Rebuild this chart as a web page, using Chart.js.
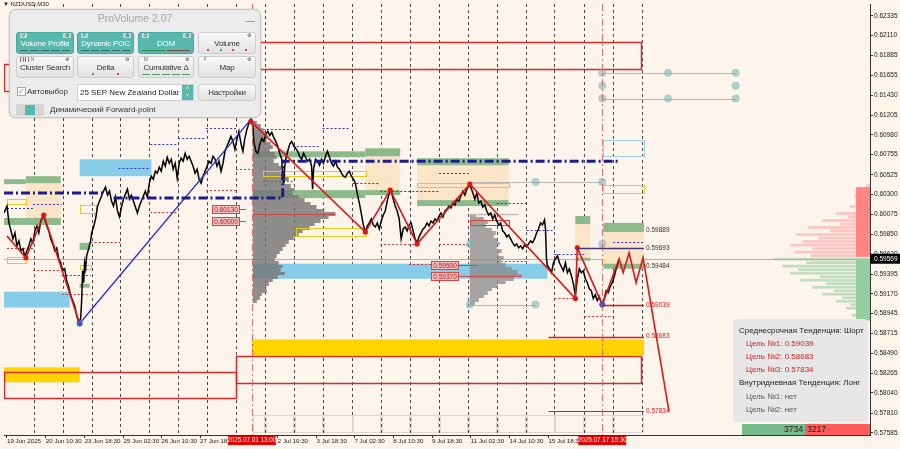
<!DOCTYPE html>
<html lang="ru">
<head>
<meta charset="UTF-8">
<title>NZDUSD,M30 - ProVolume</title>
<script src="https://cdn.jsdelivr.net/npm/chart.js"></script>
<style>
  html, body { margin: 0; padding: 0; background: #fdf4ec; }
  #wrap { position: relative; width: 900px; height: 449px; overflow: hidden; font-family: "Liberation Sans", Arial, sans-serif; }
  #chart { position: absolute; left: 0; top: 0; }
  #sym { position: absolute; left: 3px; top: 1px; font-size: 6px; color: #222; }
  #panel { position: absolute; left: 9px; top: 9px; width: 252px; height: 109px; box-sizing: border-box; background: #ececec; border: 1px solid #c4c4c4; border-radius: 7px; box-shadow: 0 0 2px rgba(0,0,0,0.2); }
  #panel .ttl { position: absolute; left: 0; right: 0; top: 2px; text-align: center; font-size: 10.5px; color: #a6a6a6; }
  #panel .mn { position: absolute; right: 5px; top: 11px; width: 9px; height: 1px; background: #9a9a9a; }
  .b { position: absolute; height: 22px; box-sizing: border-box; border: 1px solid #cdcdcd; border-radius: 3px; background: linear-gradient(#f8f8f8, #e2e2e2); color: #333; font-size: 8px; text-align: center; }
  .b.on { background: #58b8ad; border-color: #4ba89e; color: #fff; }
  .b span { position: absolute; left: 0; right: 0; top: 6px; letter-spacing: -0.2px; white-space: nowrap; }
  .b .k { position: absolute; top: 0; height: 5px; padding: 0 2px; font-size: 4.5px; line-height: 5px; font-style: normal; color: #555; background: rgba(255,255,255,0.55); }
  .b .g { position: absolute; right: 2px; top: 0; height: 5px; width: 8px; font-size: 5px; line-height: 5px; font-style: normal; color: #333; background: rgba(255,255,255,0.55); }
  .ind { position: absolute; left: 3px; right: 3px; bottom: 2px; height: 1px; display: flex; gap: 2px; }
  .ind b { flex: 1; background: #3d6d68; }
  .ind.g b { background: #c86060; }
  .dots { position: absolute; left: 3px; right: 3px; bottom: 1px; height: 3px; display: flex; justify-content: space-around; }
  .dots b { width: 2px; height: 2px; }
  .sel { position: absolute; left: 67px; top: 74px; width: 117px; height: 17px; box-sizing: border-box; background: #fff; border: 1px solid #cfcfcf; font-size: 8px; line-height: 15px; padding-left: 2px; color: #222; }
  .sel .ar { position: absolute; right: 0; top: 0; width: 11px; height: 15px; background: #58b8ad; color: #fff; font-size: 6px; line-height: 7px; text-align: center; }
  .chk { position: absolute; left: 7px; top: 77px; width: 7px; height: 7px; border: 1px solid #aaa; background: #fff; color: #3aa89c; font-size: 8px; line-height: 7px; }
  .lbl { position: absolute; font-size: 8px; color: #333; white-space: nowrap; }
  .tog { position: absolute; left: 6px; top: 94px; width: 28px; height: 12px; background: #d5d5d5; border-radius: 2px; }
  .tog b { position: absolute; left: 9px; top: 1px; width: 10px; height: 10px; background: #58b8ad; }
  #info { position: absolute; left: 733px; top: 319px; width: 135px; height: 103px; box-sizing: border-box; padding-top: 4.5px; background: #e7e7e7; border-radius: 4px; font-size: 8px; line-height: 13.2px; white-space: nowrap; overflow: hidden; }
  #info .h { padding-left: 6px; color: #222; }
  #info .t { padding-left: 13px; color: #555; }
  #info .r { color: #d42020; }
  #delta { position: absolute; left: 742px; top: 424px; width: 128px; height: 11px; display: flex; font-size: 8.5px; line-height: 11px; color: #222; }
  #delta .buy { width: 63px; background: #78bb8c; text-align: right; padding-right: 2px; box-sizing: border-box; }
  #delta .sell { flex: 1; background: #ff5b5b; padding-left: 2px; }
</style>
</head>
<body>
<div id="wrap">
  <canvas id="chart" width="900" height="449"></canvas>
  <div id="sym">&#9660; NZDUSD,M30</div>

  <div id="panel">
    <div class="ttl">ProVolume 2.07</div>
    <div class="mn"></div>

    <div class="b on" style="left:6px;top:22px;width:58px"><i class="k" style="left:3px">V</i><i class="g">&#9881;</i><span>Volume Profile</span><em class="ind"><b></b><b></b><b></b><b></b><b></b></em></div>
    <div class="b on" style="left:67px;top:22px;width:57px"><i class="k" style="left:3px">P</i><i class="g">&#9881;</i><span>Dynamic POC</span><em class="ind"><b></b><b></b><b></b><b></b><b></b></em></div>
    <div class="b on" style="left:128px;top:22px;width:56px"><i class="k" style="left:3px">D</i><i class="g">&#9881;</i><span>DOM</span><em class="ind"><b style="background:#2f8a55"></b><b style="background:#8a4a4a"></b></em></div>
    <div class="b" style="left:188px;top:22px;width:58px"><i class="g">&#9881;</i><span>Volume</span><em class="dots"><b style="background:#d44"></b><b style="background:#3a3"></b><b style="background:#d44"></b><b style="background:#d44"></b></em></div>

    <div class="b" style="left:6px;top:46px;width:58px"><i class="k" style="left:3px">B</i><i class="k" style="left:12px">N</i><i class="g">&#9881;</i><span>Cluster Search</span><em class="ind g"><b></b><b></b><b></b><b></b></em></div>
    <div class="b" style="left:67px;top:46px;width:57px"><i class="g">&#9881;</i><span>Delta</span><em class="dots"><b style="background:#3a3"></b><b style="background:#d44"></b></em></div>
    <div class="b" style="left:128px;top:46px;width:56px"><i class="k" style="left:3px">M</i><i class="g">&#9881;</i><span>Cumulative &#916;</span><em class="ind"><b style="background:#4a9a6a"></b><b style="background:#4a9a6a"></b><b style="background:#4a9a6a"></b><b style="background:#4a9a6a"></b><b style="background:#4a9a6a"></b></em></div>
    <div class="b" style="left:188px;top:46px;width:58px"><i class="k" style="left:3px">F</i><i class="g">&#9881;</i><span>Map</span></div>

    <div class="chk">&#10003;</div>
    <div class="lbl" style="left:17px;top:77px">Автовыбор</div>
    <div class="sel">25 SEP New Zealand Dollar<div class="ar">&#708;<br>&#709;</div></div>
    <div class="b" style="left:188px;top:74px;width:58px;height:17px"><span style="top:3px">Настройки</span></div>

    <div class="tog"><b></b></div>
    <div class="lbl" style="left:40px;top:95px">Динамический Forward-point</div>
  </div>

  <div id="info">
    <div class="h">Среднесрочная Тенденция: Шорт</div>
    <div class="t r">Цель №1: 0.59039</div>
    <div class="t r">Цель №2: 0.58683</div>
    <div class="t r">Цель №3: 0.57834</div>
    <div class="h">Внутридневная Тенденция: Лонг</div>
    <div class="t">Цель №1: нет</div>
    <div class="t">Цель №2: нет</div>
  </div>
  <div id="delta"><span class="buy">3734</span><span class="sell">3217</span></div>
</div>

<script>
// x = bar slot on the compressed M30 timeline, y = price
const closes = [[0,0.60090],[3,0.60169],[5,0.59977],[7,0.59886],[9,0.59795],[11,0.59863],[13,0.59716],[15,0.59772],[17,0.59659],[19,0.59682],[21,0.59591],[23,0.59659],[25,0.59716],[27,0.59795],[29,0.59750],[31,0.59886],[33,0.59942],[35,0.59863],[37,0.59999],[39,0.60056],[41,0.60022],[43,0.59942],[45,0.59886],[47,0.59795],[49,0.59738],[51,0.59659],[53,0.59693],[55,0.59568],[57,0.59523],[59,0.59432],[61,0.59455],[63,0.59319],[65,0.59251],[67,0.59149],[69,0.59092],[71,0.59035],[73,0.58922],[75,0.58843],[77,0.58888],[78,0.59092],[79,0.59432],[80,0.59296],[81,0.59523],[82,0.59455],[83,0.59602],[85,0.59682],[87,0.59772],[88,0.59863],[90,0.59931],[92,0.60022],[94,0.60169],[96,0.60226],[98,0.60283],[100,0.60339],[102,0.60385],[104,0.60294],[106,0.60339],[108,0.60226],[110,0.60169],[112,0.60271],[114,0.60113],[116,0.60045],[118,0.60158],[120,0.60249],[122,0.60305],[124,0.60362],[126,0.60249],[128,0.60294],[130,0.60226],[132,0.60158],[134,0.60090],[136,0.60169],[138,0.60226],[140,0.60283],[142,0.60339],[144,0.60271],[146,0.60430],[148,0.60509],[150,0.60475],[152,0.60566],[154,0.60544],[156,0.60612],[158,0.60566],[160,0.60680],[162,0.60623],[164,0.60725],[166,0.60657],[168,0.60702],[170,0.60589],[172,0.60657],[174,0.60487],[176,0.60657],[178,0.60714],[180,0.60680],[182,0.60770],[184,0.60702],[186,0.60736],[188,0.60680],[190,0.60623],[192,0.60544],[194,0.60589],[196,0.60475],[198,0.60430],[200,0.60509],[202,0.60566],[204,0.60623],[206,0.60680],[208,0.60657],[210,0.60736],[212,0.60702],[214,0.60623],[216,0.60680],[218,0.60566],[220,0.60657],[222,0.60793],[224,0.60850],[226,0.60906],[228,0.60963],[230,0.60906],[232,0.60816],[234,0.60929],[236,0.61020],[238,0.60884],[240,0.60793],[242,0.60940],[244,0.61042],[246,0.61111],[248,0.61156],[250,0.61076],[251,0.60906],[253,0.60793],[255,0.60770],[257,0.60872],[259,0.60940],[261,0.60906],[263,0.60986],[265,0.61020],[267,0.60974],[269,0.61008],[271,0.60952],[273,0.60906],[275,0.60850],[277,0.60770],[279,0.60702],[280,0.60544],[281,0.60430],[282,0.60612],[283,0.60702],[285,0.60793],[287,0.60872],[289,0.60906],[291,0.60861],[293,0.60827],[295,0.60793],[297,0.60736],[299,0.60702],[301,0.60770],[303,0.60725],[305,0.60680],[307,0.60702],[309,0.60623],[310,0.60362],[311,0.60589],[313,0.60702],[315,0.60680],[317,0.60634],[319,0.60702],[321,0.60657],[323,0.60736],[325,0.60793],[327,0.60725],[329,0.60657],[331,0.60623],[333,0.60680],[335,0.60612],[337,0.60589],[339,0.60544],[341,0.60509],[343,0.60498],[345,0.60544],[347,0.60566],[349,0.60509],[351,0.60475],[353,0.60430],[355,0.60305],[357,0.60203],[359,0.60079],[361,0.59954],[363,0.59874],[365,0.59942],[367,0.59977],[369,0.60022],[371,0.59954],[373,0.59931],[375,0.59977],[377,0.59908],[379,0.59999],[381,0.60067],[383,0.60113],[385,0.60226],[387,0.60317],[389,0.60339],[391,0.60249],[393,0.60169],[395,0.60113],[397,0.60022],[399,0.59795],[401,0.59908],[403,0.59931],[405,0.59886],[407,0.59954],[409,0.59977],[411,0.59886],[413,0.59795],[415,0.59750],[417,0.59818],[419,0.59863],[421,0.59908],[423,0.59931],[425,0.59977],[427,0.59942],[429,0.59999],[431,0.59977],[433,0.60022],[435,0.59999],[437,0.60056],[439,0.60090],[441,0.60045],[443,0.60113],[445,0.60135],[447,0.60169],[449,0.60147],[451,0.60203],[453,0.60181],[455,0.60249],[457,0.60226],[459,0.60283],[461,0.60339],[463,0.60294],[465,0.60362],[467,0.60407],[469,0.60385],[471,0.60317],[473,0.60249],[475,0.60317],[477,0.60203],[479,0.60226],[481,0.60158],[483,0.60181],[485,0.60113],[487,0.60067],[489,0.60090],[491,0.60022],[493,0.60067],[495,0.59999],[497,0.59954],[499,0.59977],[501,0.59886],[503,0.59863],[505,0.59818],[507,0.59840],[509,0.59795],[511,0.59750],[513,0.59716],[515,0.59738],[517,0.59693],[519,0.59716],[521,0.59682],[523,0.59727],[525,0.59704],[527,0.59738],[529,0.59772],[531,0.59750],[533,0.59795],[535,0.59863],[537,0.59908],[539,0.59977],[541,0.59954],[543,0.60011],[544,0.59908],[545,0.59568],[546,0.59489],[548,0.59455],[550,0.59410],[552,0.59523],[554,0.59568],[556,0.59602],[558,0.59523],[560,0.59478],[562,0.59432],[564,0.59523],[566,0.59410],[568,0.59455],[570,0.59375],[572,0.59285],[574,0.59149],[576,0.59341],[578,0.59455],[580,0.59410],[582,0.59432],[584,0.59341],[586,0.59296],[588,0.59228],[590,0.59205],[592,0.59115],[594,0.59160],[596,0.59092],[598,0.59137],[600,0.59069],[601,0.59035],[603,0.59115],[605,0.59205],[607,0.59183],[609,0.59251],[611,0.59296],[613,0.59364],[615,0.59455],[617,0.59523],[618,0.59568]];
const lastPrice = 0.59569;

const zigzagA = [[3,0.59829],[22,0.59580],[40,0.60067],[76,0.58831]];
const zigzagB = [[248,0.61133],[363,0.59874],[388,0.60351],[415,0.59738],[468,0.60419],[574,0.59115],[576,0.59693],[601,0.59047],[618,0.59568],[622,0.59410],[628,0.59636],[635,0.59296],[642,0.59580],[668,0.57834]];
const redPivots = [[22,0.59580],[40,0.60067],[248,0.61133],[363,0.59874],[388,0.60351],[415,0.59738],[468,0.60419],[574,0.59115],[576,0.59693]];
const bluePivots = [[76,0.58831],[601,0.59047]];
const trendLine = [[76,0.58831],[248,0.61156]];
const navyLevel = [[0,0.60317],[100,0.60317],[105,null],[110,0.60260],[280,0.60260],[280,0.60680],[618,0.60680]];

// [from, to, top price, bottom price]
const redFrames = [[0,233,0.61791,0.61485],[233,640,0.62040,0.61734],[0,233,0.58276,0.57981],[233,640,0.58457,0.58151]];
const yellowBands = [[0,76,0.58332,0.58162],[249,643,0.58650,0.58468]];
const blueBands = [[76,148,0.60702,0.60509],[0,66,0.59194,0.59013],[250,546,0.59512,0.59341]];
const beigeBands = [[22,57,0.60430,0.60033],[363,398,0.60736,0.60351],[415,507,0.60634,0.60237],[574,589,0.59965,0.59580],[602,643,0.59874,0.59512]];
const greenBands = [[0,22,0.60475,0.60419],[22,57,0.60509,0.60430],[0,57,0.60033,0.59954],[76,87,0.59750,0.59670],[76,86,0.59285,0.59239],[250,363,0.60793,0.60725],[363,398,0.60827,0.60736],[250,363,0.60351,0.60260],[363,398,0.60351,0.60294],[415,507,0.60714,0.60634],[415,507,0.60237,0.60169],[574,589,0.60056,0.59965],[574,589,0.59580,0.59546],[602,643,0.59977,0.59874],[602,643,0.59512,0.59455]];
const yellowBoxes = [[3,22,0.60249,0.60192],[76,92,0.60181,0.60090],[3,22,0.59591,0.59523],[76,87,0.59500,0.59455],[260,363,0.60566,0.60509],[293,363,0.59920,0.59829],[415,507,0.60430,0.60385],[602,643,0.60407,0.60317]];
const redBoxes = [[468,507,0.60011,0.59954]];
const cyanBoxes = [[602,643,0.60918,0.60736]];
const bottomCells = [249,262,291,320,350,379,408,437,466,495,524,553,583,612,643];
const bottomCellRange = [0.57788,0.57595];

// [from, to, price]
const blueDash = [[147,175,0.60872],[115,147,0.60600],[203,233,0.61054],[175,203,0.60940],[3,29,0.60147],[29,58,0.60192],[58,87,0.59387],[260,290,0.61042],[320,348,0.61054],[290,318,0.60850],[350,378,0.60430],[378,437,0.60339],[437,467,0.60544],[495,525,0.60203],[525,553,0.59897],[553,583,0.59625],[612,643,0.59761]];
const redDash = [[203,233,0.60351],[233,250,0.60589],[147,175,0.60101],[87,117,0.59761],[3,29,0.59693],[29,58,0.59444],[58,87,0.59171],[260,290,0.60453],[378,415,0.59738],[437,467,0.59738],[407,430,0.59512],[495,525,0.59546],[553,573,0.59126],[583,612,0.58922]];
const targetLines = [[601,643,0.59039],[547,643,0.58683],[547,643,0.57834]];
const navyTarget = [576,643,0.59693];
const pocLines = [[250,333,0.60079],[468,517,0.60079]];
const grayLinks = [[468,601,0.60442],[468,534,0.59047],[601,735,0.61689],[601,735,0.61394]];
const circleX = [534,601,468,601,468,534,601,667,735,601,735,601,667,735];
const circleP = [0.60442,0.60442,0.59738,0.59738,0.59047,0.59047,0.61689,0.61689,0.61689,0.61541,0.61541,0.61394,0.61394,0.61394];

// level labels at the right of the projection
const levelText = ['0.59889','0.59693','0.59484','0.59039','0.58683','0.57834'];
const levelPrice = [0.59889,0.59693,0.59484,0.59039,0.58683,0.57834];
const levelIsTarget = [false,false,false,true,true,true];
const tagText = ['0.60130','0.60000','0.59500','0.59370'];
const tagX = [209,209,429,429];
const tagPrice = [0.60130,0.60000,0.59500,0.59370];
const tagLineEnd = [243,243,477,520];

// volume profiles
const vp1Start = 250;
const vp1Levels = [0.6112,0.6108,0.6104,0.6100,0.6096,0.6092,0.6088,0.6084,0.6080,0.6076,0.6072,0.6068,0.6064,0.6060,0.6056,0.6052,0.6048,0.6044,0.6040,0.6036,0.6032,0.6028,0.6024,0.6020,0.6016,0.6012,0.6008,0.6004,0.6000,0.5996,0.5992,0.5988,0.5984,0.5980,0.5976,0.5972,0.5968,0.5964,0.5960,0.5956,0.5952,0.5948,0.5944,0.5940,0.5936,0.5932,0.5928,0.5924,0.5920,0.5916,0.5912,0.5908];
const vp1Vol = [4,8,10,12,15,14,18,20,17,22,24,21,26,30,28,33,36,32,38,42,40,46,52,58,64,72,83,76,68,62,57,50,46,41,36,33,30,27,24,22,26,30,28,32,25,20,16,12,14,9,7,4];
const vp2Start = 468;
const vp2Levels = [0.6006,0.6002,0.5998,0.5994,0.5990,0.5986,0.5982,0.5978,0.5974,0.5970,0.5966,0.5962,0.5958,0.5954,0.5950,0.5946,0.5942,0.5938,0.5934,0.5930,0.5926,0.5922,0.5918,0.5914,0.5910,0.5906];
const vp2Vol = [6,14,18,16,22,26,24,28,30,27,32,29,34,31,36,42,48,52,44,36,28,22,18,14,9,5];

// order book at the right edge
const askLevels = [0.6040,0.6036,0.6032,0.6028,0.6024,0.6020,0.6016,0.6012,0.6008,0.6004,0.6000,0.5996,0.5992,0.5988,0.5984,0.5980,0.5976,0.5972,0.5968,0.5964,0.5960];
const askVol = [4,10,6,16,8,12,20,10,34,22,48,30,62,40,74,52,68,80,58,76,60];
const bidLevels = [0.5956,0.5952,0.5948,0.5944,0.5940,0.5936,0.5932,0.5928,0.5924,0.5920,0.5916,0.5912,0.5908,0.5904,0.5900,0.5896,0.5892,0.5888];
const bidVol = [96,64,88,72,80,50,70,44,58,36,48,28,34,20,24,14,18,10];
const askBlock = [0.60385,0.59591];
const bidBlock = [0.59568,0.58865];
const bookBlockWidth = 14;

const gridX = [30,59,88,117,146,175,204,233,262,291,320,350,379,408,437,466,495,524,553,583,612,641];
const sessionLines = [249,601];
const sessionTags = ['2025.07.01 13:00','2025.07.17 15:30'];
const xTickPos = [3,42,81,120,158,197,275,314,352,391,430,469,508,547];
const xTickText = ['19 Jun 2025','20 Jun 10:30','23 Jun 18:30','25 Jun 02:30','26 Jun 10:30','27 Jun 18:30','2 Jul 10:30','3 Jul 18:30','7 Jul 02:30','8 Jul 10:30','9 Jul 18:30','11 Jul 02:30','14 Jul 10:30','15 Jul 18:30'];
const yTicks = [0.62335,0.62110,0.61885,0.61655,0.61430,0.61205,0.60980,0.60755,0.60525,0.60300,0.60075,0.59850,0.59620,0.59395,0.59170,0.58945,0.58715,0.58490,0.58265,0.58040,0.57810,0.57585];

const FONT = '"Liberation Sans", Arial, sans-serif';

const overlay = {
  id: 'overlay',
  beforeDatasetsDraw(chart) {
    const { ctx, chartArea: a, scales: { x, y } } = chart;
    const X = v => x.getPixelForValue(v);
    const Y = v => y.getPixelForValue(v);
    const box = (b, fill, stroke, lw) => {
      const x0 = X(b[0]), x1 = X(b[1]), y0 = Y(b[2]), y1 = Y(b[3]);
      if (fill) { ctx.fillStyle = fill; ctx.fillRect(x0, y0, x1 - x0, y1 - y0); }
      if (stroke) { ctx.strokeStyle = stroke; ctx.lineWidth = lw || 1; ctx.strokeRect(Math.round(x0) + 0.5, Math.round(y0) + 0.5, Math.round(x1 - x0), Math.round(y1 - y0)); }
    };
    const hline = (x0, x1, p, color, lw, dash) => {
      const py = Math.round(Y(p)) + 0.5;
      ctx.strokeStyle = color; ctx.lineWidth = lw; ctx.setLineDash(dash || []);
      ctx.beginPath(); ctx.moveTo(X(x0), py); ctx.lineTo(X(x1), py); ctx.stroke();
      ctx.setLineDash([]);
    };
    const profile = (start, levels, vols, color) => {
      ctx.fillStyle = color;
      levels.forEach((p, i) => {
        const step = i < levels.length - 1 ? levels[i] - levels[i + 1] : levels[i - 1] - levels[i];
        const y0 = Math.round(Y(p + step / 2)), y1 = Math.round(Y(p - step / 2));
        ctx.fillRect(X(start), y0, X(start + vols[i]) - X(start), y1 - y0);
      });
    };
    const book = (levels, vols, color) => {
      ctx.fillStyle = color;
      levels.forEach((p, i) => {
        const step = i < levels.length - 1 ? levels[i] - levels[i + 1] : levels[i - 1] - levels[i];
        const y0 = Y(p + step / 2), y1 = Y(p - step / 2);
        ctx.fillRect(X(x.max - vols[i]), y0, X(x.max) - X(x.max - vols[i]), y1 - y0 - 0.8);
      });
    };

    ctx.save();
    ctx.beginPath(); ctx.rect(a.left, a.top, a.right - a.left, a.bottom - a.top); ctx.clip();

    ctx.strokeStyle = '#4a4a4a'; ctx.lineWidth = 1; ctx.setLineDash([3, 3]);
    gridX.forEach(v => {
      const px = Math.round(X(v)) + 0.5;
      ctx.beginPath(); ctx.moveTo(px, a.top); ctx.lineTo(px, a.bottom); ctx.stroke();
    });
    ctx.setLineDash([]);

    hline(x.min, x.max, lastPrice, 'rgba(160,160,160,0.8)', 1);

    beigeBands.forEach(b => box(b, '#fce4c6'));
    yellowBands.forEach(b => box(b, '#ffd400'));
    blueBands.forEach(b => box(b, '#87cdea'));
    greenBands.forEach(b => box(b, '#8cba8a'));

    profile(vp1Start, vp1Levels, vp1Vol, 'rgba(118,118,118,0.82)');
    profile(vp2Start, vp2Levels, vp2Vol, 'rgba(140,140,140,0.78)');
    hline(pocLines[0][0], pocLines[0][1], pocLines[0][2], 'rgba(205,60,60,0.85)', 1);
    hline(pocLines[1][0], pocLines[1][1], pocLines[1][2], 'rgba(185,185,185,0.9)', 1.5);

    book(askLevels, askVol, 'rgba(255,140,140,0.45)');
    book(bidLevels, bidVol, 'rgba(120,195,145,0.45)');
    box([x.max - bookBlockWidth, x.max, askBlock[0], askBlock[1]], '#ff8484');
    box([x.max - bookBlockWidth, x.max, bidBlock[0], bidBlock[1]], '#93cda2');

    yellowBoxes.forEach(b => box(b, null, '#e5cc1c', 1));
    redBoxes.forEach(b => box(b, null, '#d84040', 1));
    cyanBoxes.forEach(b => box(b, null, '#9fcfe4', 1));
    for (let i = 0; i < bottomCells.length - 1; i++) {
      box([bottomCells[i] + 1, bottomCells[i + 1] - 1, bottomCellRange[0], bottomCellRange[1]], null, '#ddd5ce', 1);
    }

    blueDash.forEach(d => hline(d[0], d[1], d[2], '#3434c4', 1, [2, 2]));
    redDash.forEach(d => hline(d[0], d[1], d[2], '#cc3434', 1, [2, 2]));

    redFrames.forEach(b => box(b, null, '#d72b2b', 1.5));

    grayLinks.forEach(l => hline(l[0], l[1], l[2], 'rgba(175,175,175,0.9)', 1));
    ctx.restore();
  },
  afterDatasetsDraw(chart) {
    const { ctx, chartArea: a, scales: { x, y } } = chart;
    const X = v => x.getPixelForValue(v);
    const Y = v => y.getPixelForValue(v);
    ctx.save();
    ctx.beginPath(); ctx.rect(a.left, a.top, a.right - a.left, a.bottom - a.top); ctx.clip();

    ctx.fillStyle = 'rgba(110,178,178,0.55)';
    circleX.forEach((v, i) => { ctx.beginPath(); ctx.arc(X(v), Y(circleP[i]), 4, 0, Math.PI * 2); ctx.fill(); });

    const hl = (x0, x1, p, color, lw) => {
      const py = Math.round(Y(p)) + 0.5;
      ctx.strokeStyle = color; ctx.lineWidth = lw;
      ctx.beginPath(); ctx.moveTo(X(x0), py); ctx.lineTo(X(x1), py); ctx.stroke();
    };
    hl(navyTarget[0], navyTarget[1], navyTarget[2], '#3b3b7c', 1.6);
    targetLines.forEach((t, i) => hl(t[0], t[1], t[2], '#e01818', i === 2 ? 1 : 1.5));

    ctx.strokeStyle = 'rgba(220,70,70,0.75)'; ctx.lineWidth = 1; ctx.setLineDash([7, 3, 2, 3]);
    sessionLines.forEach(v => {
      const px = Math.round(X(v)) + 0.5;
      ctx.beginPath(); ctx.moveTo(px, a.top); ctx.lineTo(px, a.bottom); ctx.stroke();
    });
    ctx.setLineDash([]);

    ctx.font = '6.5px ' + FONT; ctx.textBaseline = 'middle'; ctx.textAlign = 'left';
    levelText.forEach((t, i) => {
      ctx.fillStyle = levelIsTarget[i] ? '#e02020' : '#333';
      ctx.fillText(t, X(645), Y(levelPrice[i]));
    });

    tagText.forEach((t, i) => {
      const bx = Math.round(X(tagX[i])) + 0.5, by = Math.round(Y(tagPrice[i])) - 3.5;
      ctx.strokeStyle = '#d04848'; ctx.lineWidth = 1;
      ctx.beginPath(); ctx.moveTo(bx + 27, by + 4); ctx.lineTo(X(tagLineEnd[i]), by + 4); ctx.stroke();
      ctx.fillStyle = 'rgba(242,188,188,0.95)'; ctx.fillRect(bx, by, 27, 8);
      ctx.strokeRect(bx, by, 27, 8);
      ctx.fillStyle = '#b41c1c'; ctx.textAlign = 'center';
      ctx.fillText(t, bx + 13.5, by + 4.3);
      ctx.textAlign = 'left';
    });
    ctx.restore();
  },
  afterDraw(chart) {
    const { ctx, chartArea: a, scales: { x, y } } = chart;
    ctx.save();
    ctx.font = '6.3px ' + FONT; ctx.textBaseline = 'middle'; ctx.textAlign = 'center';
    sessionLines.forEach((v, i) => {
      const cx = x.getPixelForValue(v);
      ctx.fillStyle = '#e60000'; ctx.fillRect(cx - 24, a.bottom + 1, 48, 9);
      ctx.fillStyle = '#fff'; ctx.fillText(sessionTags[i], cx, a.bottom + 5.6);
    });
    const py = y.getPixelForValue(lastPrice);
    ctx.fillStyle = '#000'; ctx.fillRect(a.right, py - 5, 30, 10);
    ctx.fillStyle = '#fff'; ctx.textAlign = 'left'; ctx.font = '6.5px ' + FONT;
    ctx.fillText(lastPrice.toFixed(5), a.right + 4, py + 0.5);
    ctx.restore();
  }
};

const series = (pts, color, width, extra) => Object.assign({
  data: pts.map(([px, py]) => ({ x: px, y: py })),
  borderColor: color, borderWidth: width, pointRadius: 0, fill: false
}, extra || {});

new Chart(document.getElementById('chart'), {
  type: 'line',
  data: {
    datasets: [
      series(redPivots, '#e01515', 0, { showLine: false, pointRadius: 2.6, pointBackgroundColor: '#e01515', pointBorderWidth: 0, order: 0 }),
      series(bluePivots, '#2a4ad0', 0, { showLine: false, pointRadius: 3, pointBackgroundColor: '#3a5ad8', pointBorderWidth: 0, order: 0 }),
      series(zigzagB, '#e01515', 1.6, { order: 1 }),
      series(zigzagA, '#e01515', 1.6, { order: 1 }),
      series(navyLevel, '#1c1c8c', 3, { borderDash: [9, 3, 2, 3], order: 2 }),
      series(trendLine, '#1f2fd6', 1.3, { order: 3 }),
      series(closes, '#000', 1.5, { order: 4 })
    ]
  },
  options: {
    responsive: false,
    animation: false,
    devicePixelRatio: 1,
    layout: { padding: { left: 0, right: 0, top: 2, bottom: 0 } },
    plugins: { legend: { display: false }, tooltip: { enabled: false } },
    elements: { line: { tension: 0 } },
    scales: {
      x: {
        type: 'linear', position: 'bottom', min: 0, max: 870,
        grid: { drawOnChartArea: false, drawTicks: true, tickLength: 3, color: '#333' },
        border: { display: true, color: '#333' },
        ticks: { autoSkip: false, maxRotation: 0, minRotation: 0, align: 'start', padding: 0, color: '#222', font: { size: 6.2, family: FONT }, callback: (v, i) => xTickText[i] },
        afterBuildTicks: s => { s.ticks = xTickPos.map(v => ({ value: v })); },
        afterFit: s => { s.height = 14; s.paddingLeft = 0; s.paddingRight = 0; }
      },
      y: {
        type: 'linear', position: 'right', min: 0.57561, max: 0.62471,
        grid: { drawOnChartArea: false, drawTicks: true, tickLength: 3, color: '#333' },
        border: { display: true, color: '#333' },
        ticks: { padding: 1, color: '#222', font: { size: 6.5, family: FONT }, callback: v => Number(v).toFixed(5) },
        afterBuildTicks: s => { s.ticks = yTicks.map(v => ({ value: v })); },
        afterFit: s => { s.width = 30; s.paddingTop = 0; s.paddingBottom = 0; }
      }
    }
  },
  plugins: [overlay]
});
</script>
</body>
</html>
